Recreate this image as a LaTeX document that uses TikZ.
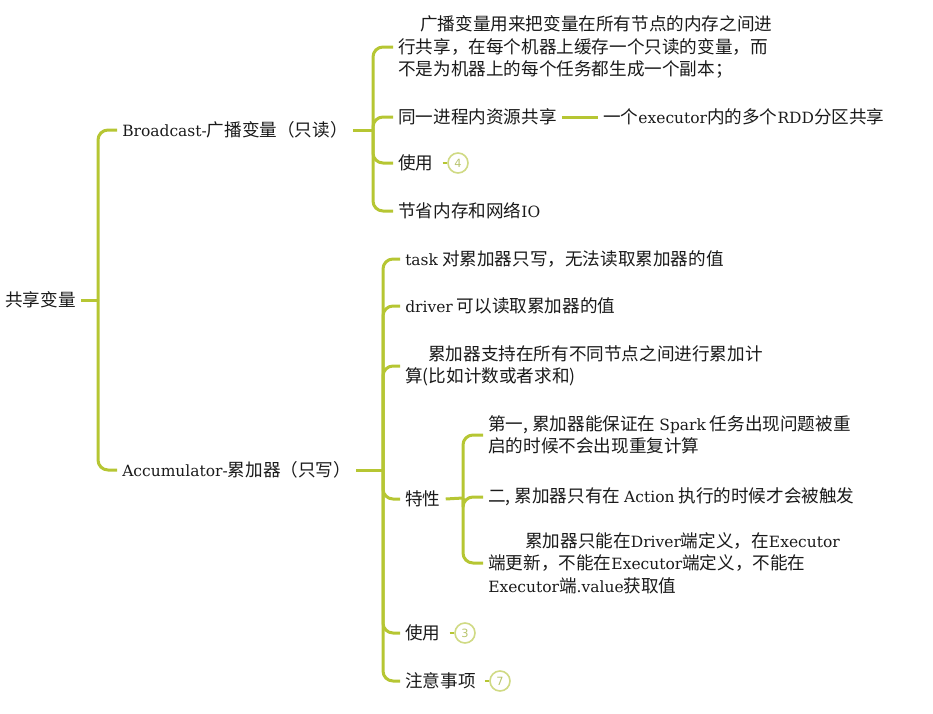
\documentclass[tikz,border=0pt]{standalone}
\usepackage{fontspec}
\setmainfont{Noto Sans CJK SC}
\newfontfamily\latinfont{DejaVu Serif}[Scale=0.88]
\newfontfamily\badgefont{DejaVu Sans}
\newcommand\en[1]{{\latinfont #1}}
\definecolor{branch}{HTML}{B6C633}
\definecolor{badgeline}{HTML}{D0DA84}
\definecolor{badgetext}{HTML}{B8C46E}
\definecolor{ink}{HTML}{1A1A1A}
\begin{document}
\begin{tikzpicture}[x=0.75pt,y=-0.75pt,
  txt/.style={inner xsep=3.75pt, inner ysep=1pt, anchor=west, text=ink,
    font=\fontsize{13.2pt}{16.9pt}\selectfont, align=left},
  link/.style={draw=branch, line width=2.25pt, rounded corners=7.5pt},
  badge/.style={circle, draw=badgeline, line width=1.2pt, minimum size=15pt,
    inner sep=0pt, text=badgetext, font=\badgefont\fontsize{8.5pt}{9pt}\selectfont},
  badgelink/.style={link, line width=1.5pt, shorten <=3pt}]
\useasboundingbox (0,0) rectangle (933,714);
% root and first level
\node[txt] (root) at (0,300) {共享变量};
\node[txt] (bc) at (117,130) {\en{Broadcast-}广播变量（只读）};
\node[txt] (acc) at (117,470) {\en{Accumulator-}累加器（只写）};
\coordinate (J0) at (98,300);
\draw[link] (root.east) -- (J0);
\draw[link] (J0) |- (bc.west);
\draw[link] (J0) |- (acc.west);
% broadcast children
\node[txt] (b1) at (393,47) {\hspace*{16.5pt}广播变量用来把变量在所有节点的内存之间进\\行共享，在每个机器上缓存一个只读的变量，而\\不是为机器上的每个任务都生成一个副本；};
\node[txt] (b2) at (393,117) {同一进程内资源共享};
\node[txt] (b2a) at (598,117) {一个\en{executor}内的多个\en{RDD}分区共享};
\node[txt] (b3) at (393,163) {使用};
\node[badge] (c4) at (458,163) {4};
\node[txt] (b4) at (393,211) {节省内存和网络\en{IO}};
\coordinate (J1) at (373,130);
\draw[link] (bc.east) -- (J1);
\foreach \n in {b1,b2,b3,b4} \draw[link] (J1) |- (\n.west);
\draw[link] (b2.east) -- (b2a.west);
\draw[badgelink] (b3.east) -- (c4.west);
% accumulator children
\node[txt] (a1) at (400,259) {\en{task} 对累加器只写，无法读取累加器的值};
\node[txt] (a2) at (400,306) {\en{driver} 可以读取累加器的值};
\node[txt] (a3) at (400,366) {\hspace*{17.25pt}累加器支持在所有不同节点之间进行累加计\\算(比如计数或者求和)};
\node[txt] (a4) at (400,499) {特性};
\node[txt] (a5) at (400,633) {使用};
\node[badge] (c3) at (465,633) {3};
\node[txt] (a6) at (400,681) {注意事项};
\node[badge] (c7) at (500,681) {7};
\coordinate (J2) at (383,470);
\draw[link] (acc.east) -- (J2);
\foreach \n in {a1,a2,a3,a4,a5,a6} \draw[link] (J2) |- (\n.west);
\draw[badgelink] (a5.east) -- (c3.west);
\draw[badgelink] (a6.east) -- (c7.west);
% characteristics
\node[txt] (t1) at (483,435) {第一, 累加器能保证在 \en{Spark} 任务出现问题被重\\启的时候不会出现重复计算};
\node[txt] (t2) at (483,497) {二, 累加器只有在 \en{Action} 执行的时候才会被触发};
\node[txt] (t3) at (483,563) {\hspace*{27.75pt}累加器只能在\en{Driver}端定义，在\en{Executor}\\端更新，不能在\en{Executor}端定义，不能在\\\en{Executor}端\en{.value}获取值};
\coordinate (J3) at (463,498);
\draw[link] (a4.east) -- (J3);
\foreach \n in {t1,t2,t3} \draw[link] (J3) |- (\n.west);
\end{tikzpicture}
\end{document}
